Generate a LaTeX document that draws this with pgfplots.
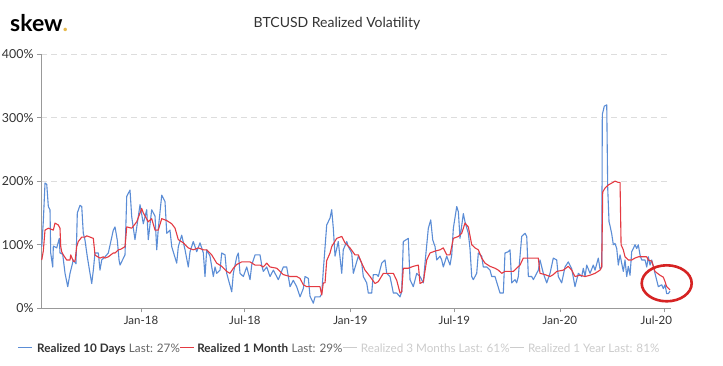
\documentclass[border=0pt]{standalone}
\usepackage{pgfplots}
\pgfplotsset{compat=1.18}
\usepackage{fontspec}
\setmainfont{Lato}
\definecolor{bluev}{RGB}{91,141,214}
\definecolor{redv}{RGB}{228,58,66}
\definecolor{txt}{HTML}{333333}
\definecolor{txtl}{HTML}{666666}
\definecolor{gridc}{HTML}{DDDDDD}
\definecolor{axisc}{HTML}{999999}
\definecolor{hidden}{HTML}{CCCCCC}
\definecolor{skewgold}{HTML}{E6B94C}
\definecolor{circ}{RGB}{214,35,35}
\begin{document}
\begin{tikzpicture}[x=1pt,y=1pt]
\useasboundingbox[fill=white] (0,0) rectangle (723,366);
\begin{axis}[
  at={(41pt,57.7pt)}, anchor=south west,
  scale only axis, width=630pt, height=254.3pt,
  xmin=-174.3, xmax=923.6, ymin=0, ymax=400,
  axis x line*=bottom, axis y line*=left,
  axis line style={draw=axisc, line width=0.8pt},
  xtick={0,181,365,546,730}, xticklabels={Jan-18,Jul-18,Jan-19,Jul-19,Jan-20},
  extra x ticks={912}, extra x tick labels={Jul-20},
  extra x tick style={xticklabel style={xshift=-8pt}},
  ytick={0,100,200,300,400}, yticklabels={0\%,100\%,200\%,300\%,400\%},
  tick align=outside, major tick length=4pt,
  tick style={draw=axisc, line width=0.8pt},
  ymajorgrids, grid style={gridc, dash pattern=on 6pt off 4pt, line width=0.8pt},
  xticklabel style={font=\fontsize{11.5}{13}\selectfont, text=txt},
  yticklabel style={font=\fontsize{12.4}{14}\selectfont, text=txt},
]
\addplot[bluev, line width=1.1pt, line join=round] coordinates {
(-173.0,97) (-170.3,136) (-167.3,197) (-164.3,195) (-161.5,160) (-158.6,155) (-157.4,87) (-153.9,65) (-152.8,98) (-146.9,95) (-142.4,110) (-141.2,87) (-136.5,85) (-132.4,55) (-127.7,34) (-123.7,55) (-118.0,76) (-113.3,70) (-111.0,150) (-106.3,162) (-103.3,160) (-100.6,118) (-97.6,107) (-93.6,81) (-88.9,55) (-85.9,39) (-83.1,60) (-80.2,87) (-74.4,87) (-71.5,60) (-68.5,76) (-62.7,81) (-57.0,87) (-48.3,123) (-45.3,128) (-41.3,107) (-38.3,76) (-36.6,68) (-27.9,84) (-24.9,176) (-19.2,186) (-16.2,144) (-10.5,108) (-6.4,134) (-1.7,163) (4.0,133) (9.9,155) (12.7,108) (18.6,155) (24.4,145) (27.4,92) (30.1,125) (36.1,178) (41.8,168) (44.8,118) (50.5,123) (53.5,97) (62.2,71) (65.0,97) (70.9,115) (76.7,92) (82.4,65) (85.4,89) (91.1,105) (97.1,89) (102.8,103) (108.6,87) (111.5,50) (114.5,92) (120.2,82) (126.0,50) (129.0,65) (131.9,55) (137.7,60) (140.6,87) (146.4,84) (149.3,55) (158.1,26) (160.9,55) (166.8,81) (169.6,87) (172.5,55) (178.3,50) (184.2,65) (190.0,45) (192.9,68) (198.7,84) (207.4,84) (210.3,68) (213.1,58) (219.1,65) (224.8,50) (230.6,60) (239.3,45) (248.0,65) (253.9,65) (259.7,34) (265.4,44) (271.3,34) (277.1,18) (282.8,31) (285.8,50) (291.6,47) (294.5,19) (300.3,8) (303.2,18) (311.9,18) (314.9,23) (317.7,60) (323.6,131) (329.4,142) (332.3,155) (335.1,126) (338.1,82) (343.8,105) (349.8,55) (352.5,92) (358.5,105) (361.3,97) (367.2,87) (370.0,55) (378.7,82) (384.6,71) (387.4,50) (393.3,40) (396.1,24) (402.0,24) (404.8,53) (410.8,53) (413.5,50) (419.5,71) (425.2,76) (428.2,55) (433.9,50) (439.7,24) (445.6,24) (451.4,18) (454.3,26) (457.1,105) (465.8,110) (468.8,45) (474.5,34) (480.5,55) (486.2,50) (492.0,40) (494.9,71) (500.7,126) (504.9,139) (508.3,108) (512.4,97) (515.3,76) (521.1,82) (524.0,76) (526.8,65) (532.7,82) (538.5,68) (541.5,84) (544.3,126) (550.2,160) (553.0,152) (555.9,110) (561.7,149) (564.6,136) (570.4,118) (573.3,94) (576.3,50) (579.1,45) (585.0,55) (587.8,87) (593.7,82) (596.5,65) (602.5,65) (608.2,60) (611.2,50) (616.9,50) (625.6,24) (631.4,24) (634.3,87) (640.1,89) (643.1,92) (646.0,40) (651.8,45) (654.7,40) (657.5,50) (663.4,113) (669.2,118) (672.2,113) (675.0,50) (680.9,50) (683.7,45) (692.4,60) (695.3,76) (701.1,55) (707.0,40) (712.8,55) (718.5,79) (724.4,76) (727.2,50) (733.1,40)
(738.9,65) (744.6,73) (750.6,62) (756.3,34) (762.1,55) (768.0,50) (770.8,63) (773.8,50) (776.7,68) (782.5,55) (788.2,68) (791.2,60) (796.9,79) (799.9,62) (802.9,65) (803.9,305) (807.4,318) (811.6,320) (813.3,189) (815.6,136) (817.3,130) (820.3,117) (823.1,100) (826.0,102) (829.0,94) (831.8,68) (834.8,84) (840.5,58) (843.5,76) (846.4,50) (849.2,66) (852.2,52) (855.1,89) (857.9,94) (860.9,100) (863.8,94) (866.6,100) (869.6,84) (872.6,76) (878.3,76) (881.3,65) (884.1,81) (887.0,68) (890.0,76) (892.8,66) (895.7,55) (901.5,34) (907.4,37) (910.2,31) (913.2,37) (916.1,23) (918.9,23) (921.9,27)
};
\addplot[redv, line width=1.1pt, line join=round] coordinates {
(-173.0,76) (-170.3,90) (-167.3,123) (-161.5,126) (-152.8,123) (-149.9,134) (-144.1,131) (-141.2,126) (-139.9,97) (-138.2,89) (-135.4,84) (-129.5,76) (-123.7,76) (-122.5,84) (-118.0,74) (-115.0,74) (-112.1,97) (-109.3,105) (-103.3,112) (-97.6,112) (-94.6,114) (-88.9,112) (-83.1,110) (-80.2,84) (-77.2,82) (-71.5,79) (-65.7,81) (-62.7,79) (-57.0,81) (-48.3,87) (-45.3,87) (-39.6,92) (-34.9,93) (-27.9,97) (-24.9,128) (-16.2,126) (-7.5,136) (1.2,157) (4.0,150) (12.7,136) (18.6,141) (24.4,123) (30.1,123) (36.1,141) (44.8,138) (53.5,133) (59.3,126) (65.0,108) (73.7,103) (82.4,95) (91.1,92) (99.9,95) (108.6,92) (114.5,92) (123.2,84) (131.9,71) (140.6,66) (149.3,58) (155.1,55) (160.9,63) (166.8,69) (175.5,73) (184.2,73) (190.0,73) (198.7,68) (207.4,68) (213.1,65) (219.1,71) (224.8,65) (236.5,63) (248.0,53) (259.7,50) (271.3,50) (277.1,47) (282.8,37) (288.8,34) (297.5,34) (306.2,34) (311.9,34) (314.9,21) (317.7,40) (320.7,40) (323.6,75) (329.4,87) (332.3,97) (341.0,110) (349.8,113) (355.5,103) (364.2,95) (372.9,84) (378.7,84) (384.6,71) (390.4,60) (399.1,50) (407.8,39) (413.5,42) (422.3,55) (431.0,55) (439.7,55) (445.6,44) (451.4,24) (454.3,26) (457.1,63) (465.8,63) (474.5,66) (483.3,68) (486.2,39) (492.0,42) (497.9,76) (503.6,87) (512.4,90) (521.1,92) (526.8,95) (532.7,84) (538.5,84) (544.3,110) (553.0,113) (558.9,118) (564.6,134) (570.4,128) (576.3,100) (582.1,95) (587.8,92) (593.7,79) (599.5,71) (608.2,66) (616.9,63) (622.7,60) (628.6,55) (634.3,58) (640.1,58) (648.8,58) (660.5,68) (666.2,79) (677.9,79) (692.4,79) (695.3,55) (704.0,53) (712.8,50) (718.5,53) (724.4,58) (735.9,60) (744.6,66) (750.6,60) (756.3,50) (765.0,52) (773.8,50) (782.5,52) (791.2,55) (799.9,60) (802.9,65) (804.6,183) (808.6,189) (814.4,194) (820.3,197) (826.0,200) (831.8,198) (834.8,198) (836.6,100) (840.5,92) (843.5,81) (849.2,76) (855.1,76) (860.9,79) (866.6,81) (875.4,81) (881.3,81) (884.1,76) (890.0,74) (895.7,58) (904.4,52) (910.2,49) (913.2,42) (916.1,34) (921.9,29)
};
\end{axis}
% annotation circle
\draw[circ, line width=2.6pt] (666.7,82.7) ellipse [x radius=25, y radius=18];
% logo and title
\node[anchor=base west, inner sep=0, font=\fontsize{23}{26}\selectfont\bfseries] at (10,334.3) {skew\textcolor{skewgold}{.}};
\node[anchor=base, inner sep=0, font=\fontsize{14}{16}\selectfont, text=txt] at (337,338) {BTCUSD Realized Volatility};
% legend
\begin{scope}[every node/.style={inner sep=0, anchor=base west, font=\fontsize{11.7}{13}\selectfont}]
\draw[bluev, line width=1pt] (18,18) -- (32,18);
\node[text=txt] (a1) at (37,13.5) {\bfseries Realized 10 Days};
\node[text=txtl] (a2) at ([xshift=3pt]a1.base east) {Last: 27\%};
\draw[redv, line width=1pt] ([xshift=0pt]a2.base east) ++(0,4.5) coordinate (r0) -- ++(14,0) coordinate (r1);
\node[text=txt] (b1) at ([xshift=3pt]r1 |- a1.base) {\bfseries Realized 1 Month};
\node[text=txtl] (b2) at ([xshift=3pt]b1.base east) {Last: 29\%};
\draw[hidden, line width=1pt] (b2.base east) ++(0,4.5) -- ++(14,0) coordinate (g1);
\node[text=hidden] (c1) at ([xshift=4pt]g1 |- a1.base) {Realized 3 Months Last: 61\%};
\draw[hidden, line width=1pt] (c1.base east) ++(0,4.5) -- ++(14,0) coordinate (g2);
\node[text=hidden] (d1) at ([xshift=4pt]g2 |- a1.base) {Realized 1 Year Last: 81\%};
\end{scope}
\end{tikzpicture}
\end{document}
